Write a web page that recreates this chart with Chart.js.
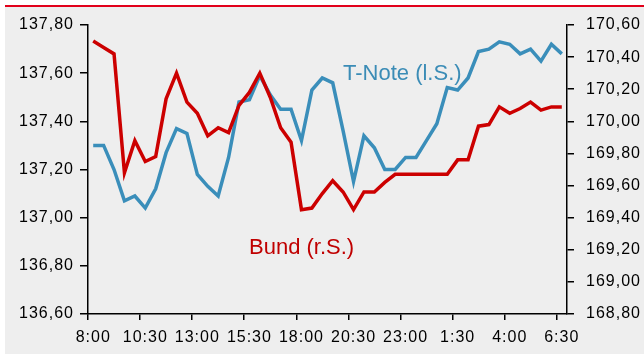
<!DOCTYPE html>
<html>
<head>
<meta charset="utf-8">
<script src="https://cdn.jsdelivr.net/npm/chart.js@4/dist/chart.umd.min.js"></script>
<style>
  html, body { margin:0; padding:0; background:#ffffff; width:644px; height:354px; overflow:hidden; }
  #panel { position:absolute; left:5px; top:5px; width:639px; height:349px; background:#EEEEEE; border-top:2px solid #E2001A; box-sizing:border-box; }
  #wrap { position:absolute; left:0; top:0; width:644px; height:354px; }
  .lbl { position:absolute; font-family:"Liberation Sans", Arial, sans-serif; font-size:22px; line-height:22px; white-space:nowrap; }
</style>
</head>
<body>
<div id="panel"></div>
<div id="wrap"><canvas id="c" width="644" height="354"></canvas></div>
<div class="lbl" style="left:343px; top:62px; color:#3B8CB6;">T-Note (l.S.)</div>
<div class="lbl" style="left:249px; top:236px; color:#C00000;">Bund (r.S.)</div>
<script>
const categories = ["8:00","8:30","9:00","9:30","10:00","10:30","11:00","11:30","12:00","12:30",
  "13:00","13:30","14:00","14:30","15:00","15:30","16:00","16:30","17:00","17:30",
  "18:00","18:30","19:00","19:30","20:00","20:30","21:00","21:30","22:00","22:30",
  "23:00","23:30","0:00","0:30","1:00","1:30","2:00","2:30","3:00","3:30",
  "4:00","4:30","5:00","5:30","6:00","6:30"];

const tNote = [137.30,137.30,137.20,137.07,137.09,137.04,137.12,137.27,137.37,137.35,
  137.18,137.13,137.09,137.25,137.48,137.49,137.59,137.51,137.45,137.45,
  137.32,137.53,137.58,137.56,137.36,137.15,137.34,137.29,137.20,137.20,
  137.25,137.25,137.32,137.39,137.54,137.53,137.58,137.69,137.70,137.73,
  137.72,137.68,137.70,137.65,137.72,137.68];

const bund = [170.50,170.46,170.42,169.68,169.88,169.75,169.78,170.14,170.30,170.12,
  170.05,169.91,169.96,169.93,170.10,170.18,170.30,170.15,169.96,169.87,
  169.45,169.46,169.55,169.63,169.56,169.45,169.56,169.56,169.62,169.67,
  169.67,169.67,169.67,169.67,169.67,169.76,169.76,169.97,169.98,170.09,
  170.05,170.08,170.12,170.07,170.09,170.09];

const leftTicks = { min: 136.6, max: 137.8, step: 0.2 };
const rightTicks = { min: 168.8, max: 170.6, step: 0.2 };
const labelEvery = 5;

const fmt = v => v.toFixed(2).replace('.', ',');
const FONT = { family: '"Liberation Sans", Arial, sans-serif', size: 16 };

const spacingPlugin = {
  id: 'spacing',
  beforeUpdate(chart) { chart.ctx.letterSpacing = '1px'; },
  beforeLayout(chart) { chart.ctx.letterSpacing = '1px'; },
  beforeDraw(chart) { chart.ctx.letterSpacing = '1px'; }
};

new Chart(document.getElementById('c'), {
  type: 'line',
  data: {
    labels: categories,
    datasets: [
      { label: 'Bund (r.S.)', data: bund, yAxisID: 'yR', borderColor: '#CC0000', borderWidth: 3.5, pointRadius: 0, tension: 0, fill: false },
      { label: 'T-Note (l.S.)', data: tNote, yAxisID: 'yL', borderColor: '#3A8EBA', borderWidth: 3.5, pointRadius: 0, tension: 0, fill: false }
    ]
  },
  options: {
    responsive: false,
    animation: false,
    devicePixelRatio: 1,
    layout: { padding: { top: 25, left: 0, right: 0, bottom: 0 } },
    plugins: { legend: { display: false }, tooltip: { enabled: false } },
    scales: {
      x: {
        type: 'category',
        offset: true,
        grid: {
          offset: true,
          drawOnChartArea: false,
          drawTicks: true,
          tickLength: 6,
          lineWidth: 1.5,
          tickColor: ctx => (ctx.index % labelEvery === 0 ? '#000' : 'rgba(0,0,0,0)')
        },
        border: { display: true, color: '#000', width: 1.5 },
        ticks: {
          autoSkip: false,
          maxRotation: 0,
          minRotation: 0,
          padding: 8,
          color: '#000',
          font: FONT,
          callback: function(val, idx) { return idx % labelEvery === 0 ? categories[idx] : ''; }
        },
        afterFit: s => { s.height = 40; }
      },
      yL: {
        position: 'left',
        min: leftTicks.min, max: leftTicks.max,
        grid: { drawOnChartArea: false, tickLength: 8, color: '#000', lineWidth: 1.5 },
        border: { display: true, color: '#000', width: 1.5 },
        ticks: { stepSize: leftTicks.step, padding: 6, color: '#000', font: FONT, callback: v => fmt(v) },
        afterFit: s => { s.width = 88; }
      },
      yR: {
        position: 'right',
        min: rightTicks.min, max: rightTicks.max,
        grid: { drawOnChartArea: false, tickLength: 7, color: '#000', lineWidth: 1.5 },
        border: { display: true, color: '#000', width: 1.5 },
        ticks: { stepSize: rightTicks.step, padding: 12, color: '#000', font: FONT, callback: v => fmt(v) },
        afterFit: s => { s.width = 77; }
      }
    }
  },
  plugins: [spacingPlugin]
});
</script>
</body>
</html>
